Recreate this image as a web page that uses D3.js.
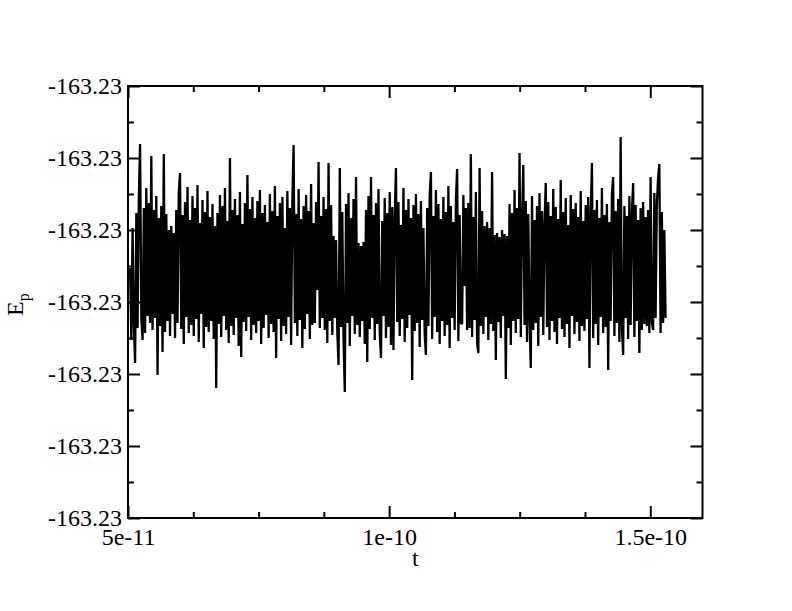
<!DOCTYPE html>
<html><head><meta charset="utf-8">
<script src="https://cdn.jsdelivr.net/npm/d3@7"></script>
<style>body{margin:0;background:#fff}svg{display:block}</style>
</head><body>
<svg id="chart" width="792" height="611"></svg>
<script>
// ---- data ----
const tStart = 5.04e-11;   // first sample time
const tStep = 2.39e-13;    // sampling interval
const Ep = [
-163.23150,-163.23222,-163.23110,-163.23205,-163.23245,-163.23095,-163.23210,-163.23080,-163.23026,-163.23200,
-163.23222,-163.23090,-163.23215,-163.23070,-163.23198,-163.23085,-163.23205,-163.23038,-163.23212,-163.23092,
-163.23200,-163.23078,-163.23257,-163.23100,-163.23208,-163.23088,-163.23234,-163.23036,-163.23214,-163.23096,
-163.23203,-163.23112,-163.23218,-163.23108,-163.23196,-163.23115,-163.23220,-163.23092,-163.23205,-163.23075,
-163.23055,-163.23211,-163.23097,-163.23226,-163.23084,-163.23199,-163.23069,-163.23215,-163.23102,-163.23207,
-163.23078,-163.23218,-163.23090,-163.23201,-163.23067,-163.23224,-163.23105,-163.23196,-163.23082,-163.23230,
-163.23094,-163.23209,-163.23073,-163.23214,-163.23099,-163.23203,-163.23086,-163.23221,-163.23108,-163.23270,
-163.23095,-163.23206,-163.23077,-163.23219,-163.23088,-163.23198,-163.23070,-163.23212,-163.23103,-163.23225,
-163.23040,-163.23208,-163.23092,-163.23217,-163.23081,-163.23200,-163.23097,-163.23228,-163.23074,-163.23239,
-163.23106,-163.23204,-163.23085,-163.23213,-163.23057,-163.23199,-163.23091,-163.23222,-163.23079,-163.23207,
-163.23100,-163.23215,-163.23083,-163.23203,-163.23072,-163.23226,-163.23095,-163.23210,-163.23087,-163.23197,
-163.23104,-163.23220,-163.23076,-163.23206,-163.23093,-163.23214,-163.23068,-163.23240,-163.23098,-163.23201,
-163.23085,-163.23223,-163.23079,-163.23208,-163.23110,-163.23216,-163.23073,-163.23199,-163.23090,-163.23227,
-163.23082,-163.23027,-163.23205,-163.23096,-163.23218,-163.23071,-163.23202,-163.23101,-163.23230,-163.23088,
-163.23211,-163.23077,-163.23196,-163.23093,-163.23221,-163.23066,-163.23207,-163.23105,-163.23205,-163.23084,
-163.23172,-163.23044,-163.23210,-163.23098,-163.23200,-163.23079,-163.23212,-163.23091,-163.23225,-163.23045,
-163.23203,-163.23087,-163.23217,-163.23118,-163.23200,-163.23122,-163.23214,-163.23247,-163.23050,-163.23209,
-163.23094,-163.23221,-163.23274,-163.23086,-163.23205,-163.23075,-163.23228,-163.23100,-163.23198,-163.23081,
-163.23216,-163.23059,-163.23207,-163.23125,-163.23219,-163.23128,-163.23203,-163.23124,-163.23226,-163.23092,
-163.23244,-163.23078,-163.23211,-163.23059,-163.23200,-163.23097,-163.23222,-163.23085,-163.23206,-163.23071,
-163.23215,-163.23240,-163.23103,-163.23198,-163.23080,-163.23220,-163.23095,-163.23209,-163.23074,-163.23227,
-163.23089,-163.23232,-163.23099,-163.23050,-163.23204,-163.23084,-163.23218,-163.23107,-163.23201,-163.23070,
-163.23224,-163.23092,-163.23210,-163.23081,-163.23197,-163.23100,-163.23262,-163.23087,-163.23213,-163.23076,
-163.23205,-163.23096,-163.23229,-163.23083,-163.23202,-163.23110,-163.23216,-163.23237,-163.23090,-163.23208,
-163.23078,-163.23054,-163.23221,-163.23098,-163.23199,-163.23072,-163.23214,-163.23086,-163.23226,-163.23101,
-163.23203,-163.23079,-163.23218,-163.23094,-163.23207,-163.23068,-163.23230,-163.23088,-163.23200,-163.23104,
-163.23212,-163.23082,-163.23051,-163.23223,-163.23097,-163.23205,-163.23206,-163.23077,-163.23168,-163.23090,
-163.23212,-163.23085,-163.23210,-163.23036,-163.23219,-163.23099,-163.23202,-163.23074,-163.23225,-163.23235,
-163.23050,-163.23208,-163.23093,-163.23216,-163.23108,-163.23199,-163.23104,-163.23222,-163.23110,-163.23206,
-163.23054,-163.23213,-163.23117,-163.23242,-163.23115,-163.23204,-163.23119,-163.23220,-163.23112,-163.23198,
-163.23116,-163.23261,-163.23118,-163.23210,-163.23086,-163.23227,-163.23095,-163.23203,-163.23072,-163.23215,
-163.23090,-163.23201,-163.23035,-163.23219,-163.23100,-163.23047,-163.23207,-163.23083,-163.23224,-163.23096,
-163.23200,-163.23250,-163.23078,-163.23212,-163.23102,-163.23205,-163.23088,-163.23228,-163.23075,-163.23199,
-163.23093,-163.23217,-163.23106,-163.23065,-163.23209,-163.23084,-163.23222,-163.23098,-163.23203,-163.23071,
-163.23214,-163.23089,-163.23226,-163.23101,-163.23200,-163.23062,-163.23211,-163.23094,-163.23219,-163.23080,
-163.23206,-163.23107,-163.23230,-163.23077,-163.23198,-163.23091,-163.23216,-163.23085,-163.23204,-163.23099,
-163.23223,-163.23073,-163.23208,-163.23103,-163.23213,-163.23087,-163.23201,-163.23079,-163.23250,-163.23096,
-163.23045,-163.23220,-163.23092,-163.23206,-163.23082,-163.23227,-163.23100,-163.23199,-163.23070,-163.23215,
-163.23097,-163.23209,-163.23086,-163.23252,-163.23104,-163.23203,-163.23076,-163.23059,-163.23218,-163.23093,
-163.23205,-163.23081,-163.23224,-163.23019,-163.23210,-163.23237,-163.23088,-163.23200,-163.23098,-163.23221,
-163.23078,-163.23207,-163.23095,-163.23065,-163.23219,-163.23087,-163.23203,-163.23102,-163.23235,-163.23090,
-163.23212,-163.23084,-163.23206,-163.23099,-163.23208,-163.23092,-163.23215,-163.23059,-163.23204,-163.23212,
-163.23075,-163.23200,-163.23086,-163.23060,-163.23046,-163.23215,-163.23094,-163.23205,-163.23112,-163.23200
];
const xMajorTicks = [5e-11, 1e-10, 1.5e-10];
const xTickLabels = ["5e-11", "1e-10", "1.5e-10"];
const xMinorTicks = [6.25e-11, 7.5e-11, 8.75e-11, 1.125e-10, 1.25e-10, 1.375e-10];
const yMajorTicks = [-163.234, -163.23328, -163.23256, -163.23184, -163.23112, -163.2304, -163.22968];
const yMinorTicks = [-163.23364, -163.23292, -163.2322, -163.23148, -163.23076, -163.23004];
const xTitle = "t";
const yTitle = "E";
const yTitleSub = "p";

// ---- chart ----
const L = 128, R = 702.5, T = 86, B = 518;
const svg = d3.select("#chart");
const x = d3.scaleLinear().domain([5e-11, 1.6e-10]).range([L, R]);
const y = d3.scaleLinear().domain([-163.234, -163.22968]).range([B, T]);
const font = "'Liberation Serif','Times New Roman',serif";

const pts = Ep.map((v, i) => [tStart + i * tStep, v]);
svg.append("path")
  .datum(pts)
  .attr("fill", "none")
  .attr("stroke", "#000")
  .attr("stroke-width", 2.3)
  .attr("stroke-linejoin", "bevel")
  .attr("d", d3.line().x(d => x(d[0])).y(d => y(d[1])));

// axes (ticks pointing inward on all sides)
const fmtX = d => xTickLabels[xMajorTicks.indexOf(d)];
const fmtY = d => d.toFixed(2);
const gB = svg.append("g").attr("transform", `translate(0,${B})`)
  .call(d3.axisBottom(x).tickValues(xMajorTicks).tickFormat(fmtX).tickSizeInner(-12).tickSizeOuter(0).tickPadding(10));
const gT = svg.append("g").attr("transform", `translate(0,${T})`)
  .call(d3.axisTop(x).tickValues(xMajorTicks).tickFormat("").tickSizeInner(-12).tickSizeOuter(0));
const gBm = svg.append("g").attr("transform", `translate(0,${B})`)
  .call(d3.axisBottom(x).tickValues(xMinorTicks).tickFormat("").tickSizeInner(-6).tickSizeOuter(0));
const gTm = svg.append("g").attr("transform", `translate(0,${T})`)
  .call(d3.axisTop(x).tickValues(xMinorTicks).tickFormat("").tickSizeInner(-6).tickSizeOuter(0));
const gL = svg.append("g").attr("transform", `translate(${L},0)`)
  .call(d3.axisLeft(y).tickValues(yMajorTicks).tickFormat(fmtY).tickSizeInner(-12).tickSizeOuter(0).tickPadding(6));
const gR = svg.append("g").attr("transform", `translate(${R},0)`)
  .call(d3.axisRight(y).tickValues(yMajorTicks).tickFormat("").tickSizeInner(-12).tickSizeOuter(0));
const gLm = svg.append("g").attr("transform", `translate(${L},0)`)
  .call(d3.axisLeft(y).tickValues(yMinorTicks).tickFormat("").tickSizeInner(-6).tickSizeOuter(0));
const gRm = svg.append("g").attr("transform", `translate(${R},0)`)
  .call(d3.axisRight(y).tickValues(yMinorTicks).tickFormat("").tickSizeInner(-6).tickSizeOuter(0));

[gB, gT, gBm, gTm, gL, gR, gLm, gRm].forEach(g => {
  g.attr("font-family", font).attr("font-size", 24);
  g.select(".domain").remove();
  g.selectAll(".tick line").attr("stroke", "#000").attr("stroke-width", 2);
  g.selectAll("text").attr("fill", "#000").style("font-family", font).style("font-size", "24px");
});
gL.selectAll("text").attr("dy", "0.32em");

svg.append("rect").attr("x", L).attr("y", T).attr("width", R - L).attr("height", B - T)
  .attr("fill", "none").attr("stroke", "#000").attr("stroke-width", 2);

svg.append("text").attr("x", (L + R) / 2).attr("y", 566).attr("text-anchor", "middle")
  .style("font-family", font).style("font-size", "24px").text(xTitle);

const yt = svg.append("text").attr("transform", "translate(23,316) rotate(-90)")
  .style("font-family", font).style("font-size", "24px");
yt.append("tspan").text(yTitle);
yt.append("tspan").attr("dy", 6).style("font-size", "16px").text(yTitleSub);
</script>
</body></html>
